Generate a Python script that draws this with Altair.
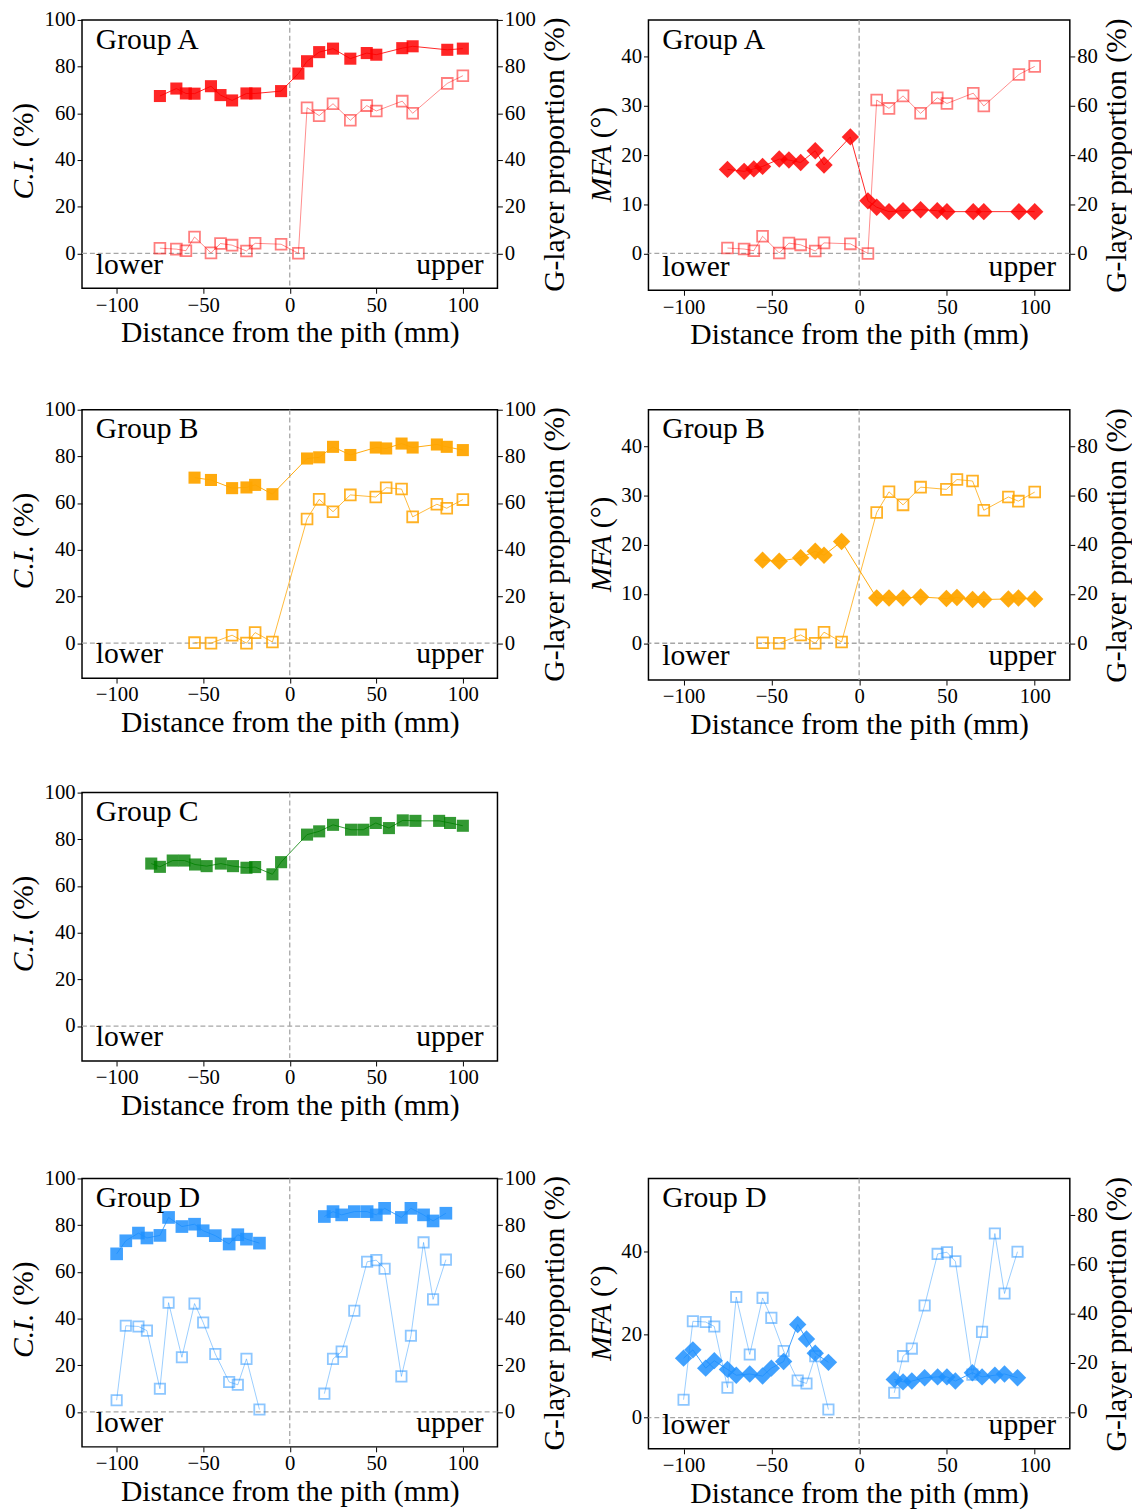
import altair as alt
import pandas as pd

FONT = "Liberation Serif"

# ---------------- data ----------------
xA = [-75, -65.5, -60, -55, -45.5, -40, -33.3, -25, -20, -5, 5, 10, 17, 25, 35, 44.5, 50, 65, 71, 91, 100]
ciA = [67.4, 70.6, 68.5, 68.4, 71.6, 67.8, 65.5, 68.5, 68.5, 69.5, 77.0, 82.3, 86.2, 87.7, 83.4, 85.8, 85.1, 87.9, 88.7, 87.2, 87.7]
gA = [2.2, 1.8, 1.1, 7.0, 0.2, 4.2, 3.5, 1.0, 4.3, 3.9, 0.0, 62.4, 59.0, 64.1, 57.0, 63.3, 61.0, 65.2, 60.0, 72.8, 76.1]
mfaA = [17.1, 16.7, 17.2, 17.7, 19.2, 19.0, 18.5, 20.9, 18.0, 23.7, 10.7, 9.4, 8.5, 8.7, 8.9, 8.7, 8.5, 8.5, 8.5, 8.5, 8.5]

xB = [-55, -45.5, -33.3, -25, -20, -10, 10, 17, 25, 35, 49.7, 55.7, 64.6, 71, 85, 90.7, 100]
ciB = [70.9, 69.9, 66.4, 66.7, 67.8, 63.8, 79.1, 79.6, 84.1, 80.6, 83.8, 83.4, 85.5, 83.8, 85.1, 84.1, 82.7]
gB = [0.2, 0.0, 3.4, 0.0, 4.5, 0.5, 53.2, 61.6, 56.3, 63.5, 62.6, 66.6, 66.0, 54.1, 59.5, 57.8, 61.5]
mfaB = [16.9, 16.7, 17.4, 18.7, 17.9, 20.7, 9.2, 9.2, 9.2, 9.4, 9.1, 9.3, 8.9, 8.9, 9.0, 9.2, 9.0]

xC = [-80, -75, -67.6, -60.8, -54.7, -48, -39.8, -32.8, -25, -20, -10, -5, 10, 17, 25, 35.4, 42.5, 49.7, 57.3, 65.3, 72.6, 86.3, 92.6, 100]
ciC = [69.6, 68.2, 70.9, 70.9, 69.2, 68.5, 69.6, 68.5, 67.8, 68.1, 65.0, 70.2, 82.0, 83.4, 86.2, 84.1, 84.1, 87.0, 84.8, 88.1, 87.9, 87.9, 87.0, 85.8]

xD = [-100, -94.7, -87.4, -82.5, -75, -70, -62.3, -55, -50, -43, -35, -30, -25, -17.5,
      20, 25, 30, 37.3, 44.7, 50, 54.8, 64.5, 70, 77.3, 82.8, 90.2]
segD = [0] * 14 + [1] * 12
ciD = [67.7, 73.3, 76.6, 74.5, 75.6, 83.3, 79.4, 80.4, 77.6, 75.5, 71.9, 75.9, 74.0, 72.3,
       83.7, 85.8, 84.4, 85.8, 85.8, 84.4, 87.2, 83.3, 87.2, 84.4, 81.8, 85.1]
gD = [5.0, 36.9, 36.6, 34.8, 9.9, 46.8, 23.4, 46.4, 38.3, 24.8, 12.8, 11.6, 22.7, 1.0,
      7.8, 22.7, 25.8, 43.3, 64.3, 65.0, 61.3, 15.2, 32.6, 72.6, 48.2, 65.2]
mfaD = [14.3, 16.3, 11.9, 13.7, 11.6, 10.2, 10.5, 10.0, 11.9, 13.5, 22.4, 18.9, 15.5, 13.3,
        9.2, 8.6, 8.8, 9.6, 9.8, 9.8, 8.8, 10.8, 9.8, 10.2, 10.5, 9.6]

xTicks = [-100, -50, 0, 50, 100]
ciTicks = [0, 20, 40, 60, 80, 100]
mfaTicks = [0, 10, 20, 30, 40]
mfaTicksD = [0, 20, 40]
gTicks100 = [0, 20, 40, 60, 80, 100]
gTicks80 = [0, 20, 40, 60, 80]

FS = 30
XSCALE = alt.Scale(domain=[-120, 120], nice=False, zero=False)
XAXIS = alt.Axis(values=xTicks, title="Distance from the pith (mm)", titlePadding=3, labelPadding=1)
ONE = pd.DataFrame({"v": [0]})


def text_layer(txt, x, y, align="left", angle=0, style="normal", baseline="alphabetic"):
    kw = dict(text=txt, align=align, baseline=baseline, font=FONT, fontSize=FS,
              color="black", fontStyle=style)
    if angle:
        kw["angle"] = angle
    return alt.Chart(ONE).mark_text(**kw).encode(x=alt.value(x), y=alt.value(y))


def build(x, left, right, seg, color, shape, lsize, rsize, lop, rop, ldom, lticks,
          rdom, rticks, t_it, t_rest, t_x, t_end, t_start, group, w, h):
    df = pd.DataFrame({"x": x, "l": left, "seg": seg})
    if right is not None:
        df["r"] = right
    lscale = alt.Scale(domain=ldom, nice=False, zero=False)
    laxis = alt.Axis(values=lticks, title=None, orient="left")
    X = alt.X("x:Q", scale=XSCALE, axis=XAXIS)
    hrule = alt.Chart(ONE).mark_rule(color="#a6a6a6", strokeDash=[5, 3], strokeWidth=1.3).encode(
        y=alt.Y("v:Q", scale=lscale, axis=laxis))
    vrule = alt.Chart(ONE).mark_rule(color="#a6a6a6", strokeDash=[5, 3], strokeWidth=1.3).encode(
        x=alt.X("v:Q", scale=XSCALE, axis=XAXIS))
    base = alt.Chart(df)
    Yl = alt.Y("l:Q", scale=lscale, axis=laxis)
    lline = base.mark_line(color=color, strokeWidth=1, opacity=lop).encode(x=X, y=Yl, detail="seg:N")
    lpts = base.mark_point(shape=shape, filled=True, size=lsize, color=color, opacity=lop,
                           strokeWidth=0).encode(x=X, y=Yl)
    layers = [hrule, vrule, lline, lpts,
              text_layer(group, 14, 29),
              text_layer("lower", 14, h - 15),
              text_layer("upper", w - 14, h - 15, align="right"),
              text_layer(t_it, t_x, t_end, align="right", angle=270, style="italic", baseline="middle"),
              text_layer(t_rest, t_x, t_start, align="left", angle=270, baseline="middle")]
    left_layer = alt.layer(*layers)
    if right is None:
        return left_layer.properties(width=w, height=h)
    rscale = alt.Scale(domain=rdom, nice=False, zero=False)
    raxis = alt.Axis(values=rticks, orient="right", title="G-layer proportion (%)",
                     titleAngle=270, titleBaseline="top", titlePadding=4)
    Yr = alt.Y("r:Q", scale=rscale, axis=raxis)
    rline = base.mark_line(color=color, strokeWidth=0.9, opacity=rop).encode(x=X, y=Yr, detail="seg:N")
    rpts = base.mark_point(shape="square", filled=False, size=rsize, color=color, opacity=rop,
                           strokeWidth=1.8).encode(x=X, y=Yr)
    right_layer = alt.layer(rline, rpts)
    return alt.layer(left_layer, right_layer).resolve_scale(y="independent").properties(width=w, height=h)


RED = "#ff0000"
ORANGE = "#ffa500"
GREEN = "#008000"
BLUE = "#1e90ff"
WL, HL = 421, 272
WR, HR = 427, 274

pA1 = build(xA, ciA, gA, [0] * len(xA), RED, "square", 150, 120, 0.85, 0.5,
            [-15, 100], ciTicks, [-15, 100], gTicks100, "C.I.", "(%)", -59, 137, 129, "Group A", WL, HL)
pA2 = build(xA, mfaA, gA, [0] * len(xA), RED, "diamond", 310, 120, 0.85, 0.5,
            [-7.5, 47.5], mfaTicks, [-15, 95], gTicks80, "MFA", "(°)", -47, 127, 120, "Group A", WR, HR)
pB1 = build(xB, ciB, gB, [0] * len(xB), ORANGE, "square", 150, 120, 0.95, 0.85,
            [-15, 100], ciTicks, [-15, 100], gTicks100, "C.I.", "(%)", -59, 137, 129, "Group B", WL, HL)
pB2 = build(xB, mfaB, gB, [0] * len(xB), ORANGE, "diamond", 310, 120, 0.95, 0.85,
            [-7.5, 47.5], mfaTicks, [-15, 95], gTicks80, "MFA", "(°)", -47, 127, 120, "Group B", WR, HR)
pC1 = build(xC, ciC, None, [0] * len(xC), GREEN, "square", 150, 120, 0.8, 0.5,
            [-15, 100], ciTicks, None, None, "C.I.", "(%)", -59, 137, 129, "Group C", WL, HL)
pD1 = build(xD, ciD, gD, segD, BLUE, "square", 165, 110, 0.85, 0.5,
            [-15, 100], ciTicks, [-15, 100], gTicks100, "C.I.", "(%)", -59, 137, 129, "Group D", WL, HL)
pD2 = build(xD, mfaD, gD, segD, BLUE, "diamond", 310, 110, 0.85, 0.5,
            [-7.5, 57.5], mfaTicksD, [-15, 95], gTicks80, "MFA", "(°)", -47, 127, 120, "Group D", WR, HR)

HS = 16
row1 = alt.hconcat(pA1, pA2, spacing=HS)
row2 = alt.hconcat(pB1, pB2, spacing=HS)
row3 = alt.hconcat(pC1, spacing=HS)
row4 = alt.hconcat(pD1, pD2, spacing=HS)

lower34 = alt.vconcat(row3, row4, spacing=46)
lower234 = alt.vconcat(row2, lower34, spacing=41)
chart = alt.vconcat(row1, lower234, spacing=48).configure_view(
    stroke="black", strokeWidth=1.5
).configure_axis(
    labelFont=FONT, titleFont=FONT, labelFontSize=21, titleFontSize=FS,
    titleFontWeight="normal", labelColor="black", titleColor="black",
    tickColor="black", tickSize=5, tickWidth=1, domain=False, grid=False, labelPadding=2
).properties(padding={"left": 0, "top": -10, "right": 0, "bottom": 0})

chart.save("out.html", embed_options={"renderer": "svg", "actions": False})
